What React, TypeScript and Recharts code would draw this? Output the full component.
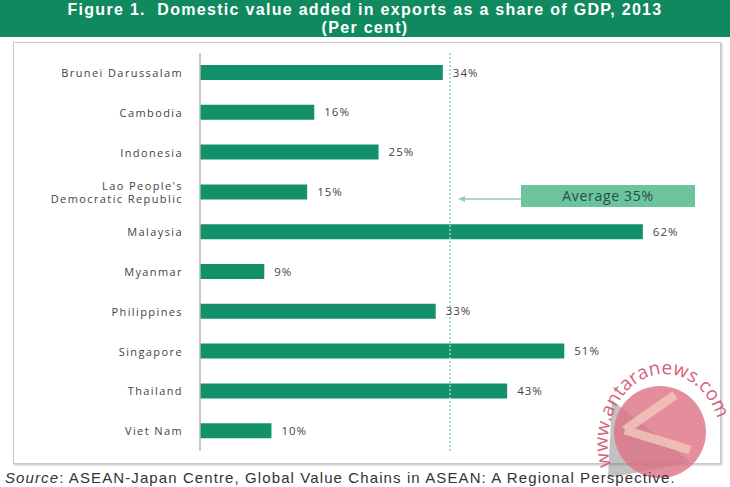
import { BarChart, Bar, XAxis, YAxis, ReferenceLine, LabelList } from 'recharts'

const countries = [
  'Brunei Darussalam',
  'Cambodia',
  'Indonesia',
  "Lao People's\nDemocratic Republic",
  'Malaysia',
  'Myanmar',
  'Philippines',
  'Singapore',
  'Thailand',
  'Viet Nam',
]
const shares = [34, 16, 25, 15, 62, 9, 33, 51, 43, 10]
const average = 35
const axisMax = 70

const data = countries.map((country, i) => ({ country, share: shares[i] }))

const font = '"Open Sans", "DejaVu Sans", sans-serif'

function CountryTick(props: any) {
  const { x, y, payload } = props
  const lines = String(payload.value).split('\n')
  const gap = 13.5
  const start = -((lines.length - 1) * gap) / 2 + 4
  return (
    <text x={x} y={y} textAnchor="end" fill="#444" fontSize={11} fontFamily={font} letterSpacing={1.4}>
      {lines.map((line, i) => (
        <tspan key={i} x={x} dy={i === 0 ? start : gap}>
          {line}
        </tspan>
      ))}
    </text>
  )
}

function AverageNote(props: any) {
  const { viewBox } = props
  const x = viewBox.x
  const y = viewBox.y + 143
  return (
    <g>
      <line x1={x + 12} y1={y + 3} x2={x + 71} y2={y + 3} stroke="#8fcfb8" strokeWidth={1.5} />
      <path d={`M ${x + 8} ${y + 3} L ${x + 15} ${y} L ${x + 15} ${y + 6} Z`} fill="#8fcfb8" />
      <rect x={x + 71} y={y - 11} width={174} height={22} fill="#6cc49f" />
      <text x={x + 158} y={y + 5} textAnchor="middle" fill="#24503f" fontSize={14} fontFamily={font} letterSpacing={0.7}>
        {`Average ${average}%`}
      </text>
    </g>
  )
}

export default function App() {
  return (
    <div style={{ position: 'absolute', left: 0, top: 0, width: 730, height: 487, background: '#fff', overflow: 'hidden' }}>
      <div
        style={{
          position: 'absolute',
          left: 0,
          top: 0,
          width: 730,
          height: 37,
          background: '#10895f',
          color: '#fff',
          fontFamily: '"Liberation Sans", Arial, sans-serif',
          fontWeight: 'bold',
          fontSize: 16,
          letterSpacing: 1.3,
          textAlign: 'center',
          lineHeight: '18px',
          paddingTop: 1,
          boxSizing: 'border-box',
        }}
      >
        <div>Figure 1.&nbsp; Domestic value added in exports as a share of GDP, 2013</div>
        <div>(Per cent)</div>
      </div>
      <div
        style={{
          position: 'absolute',
          left: 13,
          top: 42,
          width: 706,
          height: 420,
          border: '1px solid #c9c9c9',
          boxShadow: '1px 1px 2px #bbb',
        }}
      />
      <div style={{ position: 'absolute', left: 0, top: 0 }}>
        <BarChart
          width={730}
          height={487}
          data={data}
          layout="vertical"
          margin={{ top: 53, right: 30, bottom: 36, left: 0 }}
        >
          <XAxis type="number" domain={[0, axisMax]} hide />
          <YAxis
            type="category"
            dataKey="country"
            width={200}
            tickLine={false}
            tickSize={0}
            tickMargin={17}
            axisLine={{ stroke: '#b5b5b5', strokeWidth: 1.5 }}
            tick={<CountryTick />}
            interval={0}
          />
          <ReferenceLine
            x={average}
            stroke="#8fd0c0"
            strokeWidth={1.5}
            strokeDasharray="2 2"
            label={<AverageNote />}
          />
          <Bar dataKey="share" fill="#12916a" barSize={15} isAnimationActive={false}>
            <LabelList
              dataKey="share"
              position="right"
              offset={10}
              formatter={(v: any) => `${v}%`}
              style={{ fill: '#444', fontSize: 11.5, fontFamily: font, letterSpacing: 1 }}
            />
          </Bar>
        </BarChart>
      </div>
      <svg width={730} height={487} style={{ position: 'absolute', left: 0, top: 0, pointerEvents: 'none' }}>
        <defs>
          <path id="wm" d="M 611 466 A 56 68 0 1 1 718 420" />
        </defs>
        <path d="M 608 478 L 640 472 L 690 462 L 612 400 Z" fill="#777" opacity={0.45} />
        <circle cx={660} cy={432} r={46} fill="#dd7284" opacity={0.8} />
        <path d="M 625 430 L 675 395 M 625 430 L 690 450" stroke="#f3c9bd" strokeWidth={9} opacity={0.8} fill="none" />
        <text fontSize={19} fill="#d2506c" fontFamily={font} opacity={0.9}>
          <textPath href="#wm">www.antaranews.com</textPath>
        </text>
      </svg>
      <div
        style={{
          position: 'absolute',
          left: 5,
          top: 469,
          fontFamily: '"Liberation Sans", Arial, sans-serif',
          fontSize: 15,
          letterSpacing: 1.1,
          color: '#333',
          whiteSpace: 'nowrap',
        }}
      >
        <i>Source</i>: ASEAN-Japan Centre, Global Value Chains in ASEAN: A Regional Perspective.
      </div>
    </div>
  )
}
